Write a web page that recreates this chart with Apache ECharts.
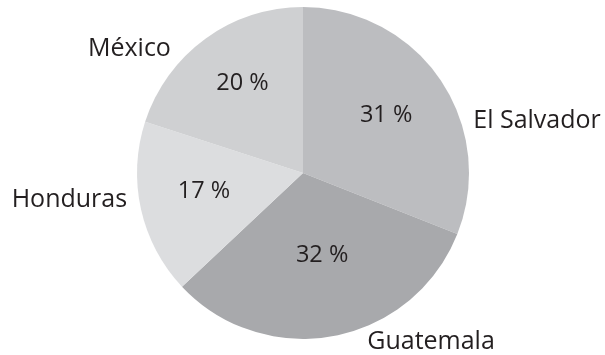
<!DOCTYPE html>
<html>
<head>
<meta charset="utf-8">
<script src="https://cdn.jsdelivr.net/npm/echarts@6/dist/echarts.min.js"></script>
<style>
  html, body { margin: 0; padding: 0; background: #ffffff; }
  #chart { width: 605px; height: 355px; }
</style>
</head>
<body>
<div id="chart"></div>
<script>
// Share by country (percent)
const countries = ['El Salvador', 'Guatemala', 'Honduras', 'México'];
const shares = [31, 32, 17, 20];

// Slice shades, one per country
const sliceColors = ['#bcbdc0', '#a8a9ac', '#dcdddf', '#cfd0d2'];
// Nudges for the percent labels and the country names
const innerNudge = [[12, -9], [3, -2], [-15, 0], [-10, -20]];
const outerNudge = [[23, 45], [27, 0], [-3, -11], [-26, 15]];

const FONT = '"Open Sans"';
const TEXT = '#231f20';

const chart = echarts.init(document.getElementById('chart'), null, { renderer: 'canvas' });

const innerData = countries.map((name, i) => ({
  name: name,
  value: shares[i],
  itemStyle: { color: sliceColors[i] },
  label: { offset: innerNudge[i] }
}));

const outerData = countries.map((name, i) => ({
  name: name,
  value: shares[i],
  label: { offset: outerNudge[i] }
}));

chart.setOption({
  animation: false,
  backgroundColor: '#ffffff',
  series: [
    {
      type: 'pie',
      center: [303, 173],
      radius: [0, 166],
      startAngle: 90,
      clockwise: true,
      silent: true,
      itemStyle: { borderWidth: 0 },
      label: {
        show: true,
        position: 'inside',
        formatter: p => p.value + ' %',
        fontFamily: FONT,
        fontSize: 23.5,
        color: TEXT
      },
      labelLine: { show: false },
      data: innerData
    },
    {
      type: 'pie',
      center: [303, 173],
      radius: [0, 166],
      startAngle: 90,
      clockwise: true,
      silent: true,
      itemStyle: { color: 'rgba(0,0,0,0)', borderWidth: 0 },
      label: {
        show: true,
        position: 'outside',
        formatter: p => p.name,
        fontFamily: FONT,
        fontSize: 25,
        color: TEXT
      },
      labelLine: { show: false, length: 6, length2: 0 },
      avoidLabelOverlap: false,
      data: outerData
    }
  ]
});
</script>
</body>
</html>
